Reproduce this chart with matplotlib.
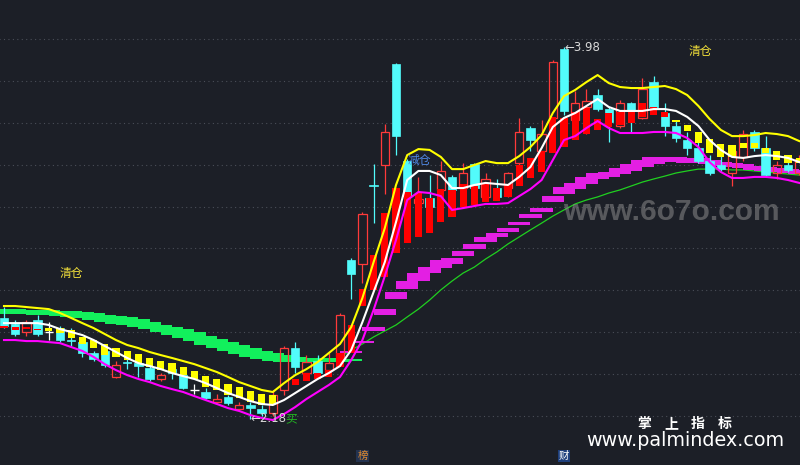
import numpy as np
import matplotlib
matplotlib.use("Agg")
import matplotlib.pyplot as plt
from matplotlib.patches import Rectangle

plt.rcParams['font.family'] = ['Noto Sans CJK SC', 'DejaVu Sans']

# ---------------- data (prices) ----------------
opens = [2.67, 2.64, 2.60, 2.66, 2.60, 2.62, 2.56, 2.55, 2.50, 2.51,
         2.38, 2.455, 2.45, 2.425, 2.37, 2.42, 2.39, 2.32, 2.31, 2.26,
         2.285, 2.225, 2.245, 2.225, 2.205, 2.32, 2.52, 2.40, 2.46, 2.415,
         2.48, 2.95, 2.93, 3.315, 3.41, 3.90, 3.43, 3.225, 3.25, 3.29,
         3.35, 3.30, 3.415, 3.255, 3.30, 3.30, 3.42, 3.59, 3.48, 3.64,
         3.97, 3.63, 3.69, 3.75, 3.68, 3.60, 3.71, 3.64, 3.81, 3.66,
         3.60, 3.53, 3.49, 3.43, 3.41, 3.37, 3.45, 3.57, 3.49, 3.37,
         3.41, 3.37]
highs = [2.72, 2.66, 2.66, 2.68, 2.65, 2.63, 2.62, 2.56, 2.51, 2.54,
         2.46, 2.47, 2.46, 2.44, 2.40, 2.44, 2.41, 2.35, 2.33, 2.30,
         2.295, 2.26, 2.26, 2.245, 2.32, 2.53, 2.55, 2.49, 2.49, 2.50,
         2.69, 2.96, 3.18, 3.415, 3.61, 3.905, 3.44, 3.35, 3.36, 3.43,
         3.36, 3.42, 3.42, 3.37, 3.34, 3.375, 3.64, 3.60, 3.63, 3.92,
         3.98, 3.77, 3.78, 3.78, 3.69, 3.725, 3.715, 3.83, 3.84, 3.71,
         3.63, 3.57, 3.53, 3.46, 3.48, 3.49, 3.58, 3.58, 3.55, 3.43,
         3.45, 3.46]
lows = [2.62, 2.58, 2.58, 2.58, 2.56, 2.55, 2.53, 2.48, 2.46, 2.43,
        2.375, 2.42, 2.38, 2.36, 2.36, 2.37, 2.325, 2.30, 2.275, 2.255,
        2.245, 2.22, 2.18, 2.195, 2.195, 2.295, 2.40, 2.37, 2.38, 2.405,
        2.465, 2.76, 2.84, 3.13, 3.27, 3.46, 3.24, 3.215, 3.19, 3.26,
        3.28, 3.285, 3.285, 3.24, 3.24, 3.255, 3.385, 3.48, 3.46, 3.63,
        3.65, 3.60, 3.56, 3.67, 3.52, 3.59, 3.565, 3.635, 3.68, 3.55,
        3.52, 3.46, 3.42, 3.36, 3.38, 3.31, 3.43, 3.48, 3.35, 3.34,
        3.375, 3.36]
closes = [2.63, 2.59, 2.65, 2.59, 2.60, 2.56, 2.555, 2.50, 2.47, 2.44,
          2.44, 2.45, 2.435, 2.37, 2.39, 2.40, 2.33, 2.32, 2.28, 2.275,
          2.255, 2.245, 2.23, 2.205, 2.295, 2.52, 2.43, 2.455, 2.40, 2.45,
          2.68, 2.88, 3.17, 3.31, 3.57, 3.55, 3.26, 3.245, 3.205, 3.38,
          3.29, 3.37, 3.30, 3.34, 3.255, 3.37, 3.57, 3.53, 3.56, 3.91,
          3.67, 3.71, 3.72, 3.68, 3.62, 3.71, 3.67, 3.78, 3.69, 3.60,
          3.54, 3.49, 3.43, 3.37, 3.39, 3.48, 3.56, 3.49, 3.36, 3.41,
          3.385, 3.44]

nan = float('nan')
# signal bars drawn over the candles (R = red, Y = yellow, - = none)
ov_top = [2.63, 2.625, 2.625, 2.615, 2.62, 2.62, 2.61, 2.575, 2.56, 2.54,
          2.52, 2.51, 2.495, 2.475, 2.46, 2.45, 2.43, 2.41, 2.385, 2.37,
          2.35, 2.335, 2.315, 2.30, 2.295, nan, 2.37, 2.40, 2.40, 2.415,
          2.50, 2.635, 2.81, 2.975, 3.175, 3.30, 3.28, 3.275, 3.25, 3.295,
          3.29, 3.32, 3.31, 3.32, 3.30, 3.32, 3.41, 3.445, 3.48, 3.645,
          3.64, 3.665, 3.685, 3.635, 3.66, 3.665, 3.665, 3.71, 3.69, 3.665,
          3.63, 3.605, 3.57, 3.535, 3.51, 3.505, 3.515, 3.515, 3.49, 3.48,
          3.46, 3.445]
ov_bot = [2.62, 2.61, 2.615, 2.61, 2.605, 2.595, 2.57, 2.54, 2.52, 2.49,
          2.48, 2.465, 2.45, 2.43, 2.415, 2.40, 2.39, 2.37, 2.335, 2.32,
          2.295, 2.28, 2.26, 2.245, 2.25, nan, 2.345, 2.36, 2.37, 2.38,
          2.43, 2.50, 2.725, 2.805, 2.865, 2.985, 3.03, 3.06, 3.08, 3.135,
          3.16, 3.205, 3.215, 3.23, 3.235, 3.255, 3.31, 3.345, 3.375, 3.47,
          3.495, 3.53, 3.56, 3.58, 3.595, 3.605, 3.615, 3.645, 3.65, 3.645,
          3.62, 3.575, 3.515, 3.47, 3.45, 3.45, 3.49, 3.49, 3.47, 3.435,
          3.42, 3.42]
ov_kind = "RRRR" + "Y" * 21 + "-" + "R" * 34 + "Y" * 12

upper = [2.726, 2.726, 2.721, 2.716, 2.711, 2.692, 2.668, 2.643, 2.619, 2.590,
         2.561, 2.537, 2.522, 2.503, 2.488, 2.474, 2.459, 2.444, 2.425, 2.406,
         2.382, 2.357, 2.338, 2.319, 2.309, 2.352, 2.391, 2.420, 2.454, 2.498,
         2.542, 2.624, 2.765, 2.939, 3.104, 3.313, 3.458, 3.487, 3.483, 3.449,
         3.390, 3.390, 3.410, 3.429, 3.419, 3.419, 3.453, 3.497, 3.555, 3.662,
         3.744, 3.774, 3.812, 3.846, 3.807, 3.788, 3.783, 3.783, 3.788, 3.793,
         3.778, 3.749, 3.696, 3.633, 3.580, 3.550, 3.550, 3.555, 3.565, 3.560,
         3.550, 3.526]
mid = [2.643, 2.643, 2.643, 2.643, 2.634, 2.614, 2.600, 2.585, 2.561, 2.532,
       2.503, 2.474, 2.449, 2.435, 2.420, 2.401, 2.386, 2.372, 2.352, 2.328,
       2.304, 2.285, 2.265, 2.251, 2.246, 2.270, 2.304, 2.338, 2.372, 2.401,
       2.435, 2.513, 2.648, 2.794, 2.939, 3.133, 3.337, 3.381, 3.381, 3.361,
       3.298, 3.298, 3.313, 3.323, 3.318, 3.313, 3.352, 3.400, 3.492, 3.594,
       3.638, 3.662, 3.696, 3.730, 3.691, 3.672, 3.672, 3.672, 3.681, 3.681,
       3.672, 3.643, 3.599, 3.531, 3.483, 3.449, 3.444, 3.453, 3.458, 3.453,
       3.444, 3.424]
lower = [2.561, 2.561, 2.556, 2.556, 2.551, 2.546, 2.527, 2.508, 2.479, 2.444,
         2.415, 2.391, 2.372, 2.357, 2.338, 2.323, 2.309, 2.289, 2.270, 2.251,
         2.231, 2.217, 2.197, 2.183, 2.173, 2.202, 2.236, 2.275, 2.309, 2.343,
         2.382, 2.464, 2.561, 2.707, 2.871, 3.046, 3.240, 3.279, 3.274, 3.259,
         3.192, 3.201, 3.211, 3.221, 3.221, 3.225, 3.259, 3.293, 3.337, 3.434,
         3.531, 3.550, 3.589, 3.623, 3.589, 3.565, 3.565, 3.565, 3.570, 3.570,
         3.565, 3.541, 3.497, 3.424, 3.376, 3.347, 3.347, 3.352, 3.352, 3.347,
         3.337, 3.323]

# falling long average (thick green staircase), bars 0..31
green_top = [2.711, 2.711, 2.707, 2.707, 2.707, 2.702, 2.702, 2.697, 2.692, 2.682,
             2.677, 2.673, 2.663, 2.648, 2.634, 2.624, 2.614, 2.600, 2.580, 2.566,
             2.551, 2.537, 2.522, 2.508, 2.498, 2.488, 2.479, 2.474, 2.474, 2.474,
             2.469, 2.469]
green_bot = [2.687, 2.687, 2.687, 2.682, 2.682, 2.677, 2.673, 2.668, 2.658, 2.648,
             2.639, 2.634, 2.624, 2.614, 2.600, 2.585, 2.571, 2.556, 2.537, 2.522,
             2.508, 2.493, 2.479, 2.469, 2.459, 2.454, 2.454, 2.454, 2.454, 2.454,
             2.454, 2.459]
# rising long average (thin green), bars 30..71
ma_line = [2.479, 2.513, 2.542, 2.576, 2.605, 2.634, 2.673, 2.711, 2.755, 2.804,
           2.847, 2.886, 2.915, 2.954, 2.988, 3.027, 3.061, 3.095, 3.128, 3.162,
           3.192, 3.221, 3.240, 3.255, 3.274, 3.289, 3.308, 3.327, 3.342, 3.356,
           3.371, 3.381, 3.390, 3.390, 3.390, 3.386, 3.386, 3.381, 3.376, 3.371,
           3.366, 3.361]
# magenta staircase, bars 31..71
step_top = [2.508, 2.556, 2.624, 2.711, 2.794, 2.847, 2.886, 2.915, 2.949, 2.959,
            2.993, 3.027, 3.061, 3.080, 3.104, 3.133, 3.172, 3.201, 3.259, 3.303,
            3.323, 3.352, 3.371, 3.376, 3.396, 3.415, 3.434, 3.449, 3.449, 3.449,
            3.444, 3.444, 3.434, 3.424, 3.419, 3.415, 3.405, 3.400, 3.395, 3.390,
            3.386]
step_bot = [2.498, 2.546, 2.605, 2.682, 2.760, 2.808, 2.847, 2.886, 2.910, 2.930,
            2.968, 3.002, 3.036, 3.061, 3.085, 3.119, 3.153, 3.182, 3.230, 3.269,
            3.293, 3.318, 3.342, 3.352, 3.366, 3.381, 3.400, 3.415, 3.424, 3.424,
            3.419, 3.419, 3.415, 3.405, 3.400, 3.395, 3.386, 3.381, 3.376, 3.371,
            3.366]

grid_levels = [4.019, 3.817, 3.614, 3.411, 3.208, 3.006, 2.803, 2.600, 2.398, 2.195]

brand_chars = ['掌', '上', '指', '标']

# ---------------- drawing ----------------
BG = '#1c1f27'
CYAN = '#52fbfb'
RED = '#ff3a3a'
fig = plt.figure(figsize=(8, 4.65), dpi=100, facecolor=BG)
ax = fig.add_axes([0, 0, 1, 1])
ax.set_xlim(-0.357, 71.07)
ax.set_ylim(1.955, 4.21)
ax.set_axis_off()

n = len(opens)
x = np.arange(n)

ax.hlines(grid_levels, -1, n + 1, colors='#4a4e58', linestyles=(0, (1, 3)), lw=0.8, zorder=0)

# green staircase and thin MA
gx = x[:len(green_top)]
ax.bar(gx, np.array(green_top) - np.array(green_bot), bottom=green_bot, width=2.0,
       color='#12f05c', zorder=1, linewidth=0)
ax.plot(x[30:30 + len(ma_line)], ma_line, color='#20d020', lw=0.9, zorder=1.5)

# magenta staircase
sx = x[31:31 + len(step_top)]
sh = np.maximum(np.array(step_top) - np.array(step_bot), 0.006)
ax.bar(sx, sh, bottom=step_bot, width=2.0, color='#e31fe3', zorder=2, linewidth=0)

# candles
BW = 0.76
for i in range(n):
    o, h, l, c = opens[i], highs[i], lows[i], closes[i]
    if c > o:
        ax.add_patch(Rectangle((i - BW / 2, o), BW, c - o, fill=False, ec=RED, lw=0.9, zorder=4))
        ax.vlines(i, c, h, color=RED, lw=0.9, zorder=4)
        ax.vlines(i, l, o, color=RED, lw=0.9, zorder=4)
    elif c < o:
        ax.vlines(i, l, h, color=CYAN, lw=0.9, zorder=3.9)
        ax.add_patch(Rectangle((i - BW / 2, c), BW, o - c, fc=CYAN, ec=CYAN, lw=0.5, zorder=4))
    else:
        ax.vlines(i, l, h, color='white', lw=0.9, zorder=4)
        ax.hlines(o, i - BW / 2, i + BW / 2, color='white', lw=1.0, zorder=4)

# signal bars
ot = np.array(ov_top)
ob = np.array(ov_bot)
for kind, col in (('R', '#ff0000'), ('Y', '#ffff00')):
    m = np.array([k == kind for k in ov_kind])
    ax.bar(x[m], ot[m] - ob[m], bottom=ob[m], width=0.64, color=col, zorder=5, linewidth=0)

# bands
ax.plot(x, upper, color='#ffff00', lw=1.5, zorder=6)
ax.plot(x, mid, color='#ffffff', lw=1.5, zorder=6)
ax.plot(x, lower, color='#ff00ff', lw=1.5, zorder=6)

# annotations
ax.text(6.0, 2.886, '清仓', color='#f2e03a', fontsize=8.5, ha='center', va='center', zorder=7)
ax.text(62.2, 3.958, '清仓', color='#f2e03a', fontsize=8.5, ha='center', va='center', zorder=7)
ax.text(37.1, 3.434, '减仓', color='#4f86e0', fontsize=8.5, ha='center', va='center', zorder=7)
ax.text(50.0, 3.98, '←3.98', color='#d8d8d8', fontsize=8.5, ha='left', va='center',
        family=['DejaVu Sans'], zorder=7)
ax.text(22.0, 2.18, '←2.18', color='#d8d8d8', fontsize=8.5, ha='left', va='center',
        family=['DejaVu Sans'], zorder=7)
ax.text(25.1, 2.18, '买', color='#22bb22', fontsize=8.5, ha='left', va='center', zorder=7)

# watermarks
fig.text(671 / 800, 1 - 212 / 465, 'www.6o7o.com', color='#8a8a8a', alpha=0.55,
         fontsize=21.5, fontweight='bold', ha='center', va='center', family=['Liberation Sans'])
for k, ch in enumerate(brand_chars):
    fig.text((644 + 27 * k) / 800, 1 - 424 / 465, ch, color='white', fontsize=10,
             fontweight='bold', ha='center', va='center')
fig.text(685 / 800, 1 - 440 / 465, 'www.palmindex.com', color='white', fontsize=13.8,
         ha='center', va='center', family=['DejaVu Sans'])

# bottom marks
ax.text(32, 1.999, '榜', color='#e08a30', fontsize=7.5, ha='center', va='center',
        bbox=dict(boxstyle='square,pad=0.1', fc='#23324f', ec='none'), zorder=7)
ax.text(50, 1.999, '财', color='white', fontsize=7.5, ha='center', va='center',
        bbox=dict(boxstyle='square,pad=0.1', fc='#1e3f7c', ec='none'), zorder=7)

fig.savefig('out.png', dpi=100, facecolor=BG)
